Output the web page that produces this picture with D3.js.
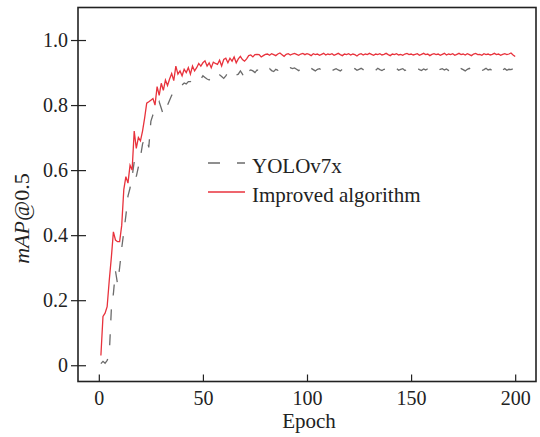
<!DOCTYPE html>
<html>
<head>
<meta charset="utf-8">
<script src="https://cdn.jsdelivr.net/npm/d3@7"></script>
<style>
  html, body { margin: 0; padding: 0; background: #fff; }
  svg { display: block; }
  text { font-family: "Liberation Serif", "Times New Roman", serif; fill: #222; }
</style>
</head>
<body>
<svg id="chart" width="540" height="437"></svg>
<script>
const seriesNames = ["YOLOv7x", "Improved algorithm"];
const xTicks = [0, 50, 100, 150, 200];
const yTicks = [0, 0.2, 0.4, 0.6, 0.8, 1.0];
const yTickLabels = ["0", "0.2", "0.4", "0.6", "0.8", "1.0"];

// mAP@0.5 per epoch (epoch = index + 1)
const improvedValues = [
0.03,0.15,0.16,0.18,0.26,0.33,0.41,0.385,0.38,0.38,
0.43,0.54,0.58,0.56,0.615,0.60,0.72,0.667,0.70,0.69,
0.72,0.76,0.806,0.81,0.815,0.82,0.80,0.857,0.83,0.867,
0.845,0.877,0.86,0.88,0.897,0.875,0.92,0.895,0.905,0.89,
0.91,0.90,0.915,0.895,0.92,0.905,0.915,0.928,0.92,0.93,
0.936,0.92,0.93,0.915,0.932,0.928,0.925,0.938,0.92,0.94,
0.944,0.93,0.944,0.935,0.948,0.93,0.942,0.95,0.94,0.935,
0.942,0.952,0.954,0.948,0.955,0.956,0.955,0.948,0.952,0.956,
0.957,0.953,0.958,0.955,0.952,0.957,0.960,0.955,0.950,0.956,
0.958,0.954,0.957,0.959,0.956,0.953,0.957,0.959,0.955,0.958,
0.956,0.952,0.958,0.955,0.957,0.953,0.956,0.959,0.954,0.957,
0.955,0.958,0.953,0.956,0.959,0.955,0.952,0.957,0.955,0.958,
0.954,0.957,0.955,0.951,0.956,0.958,0.954,0.957,0.955,0.959,
0.956,0.953,0.957,0.955,0.958,0.954,0.956,0.959,0.955,0.952,
0.957,0.955,0.958,0.954,0.956,0.953,0.957,0.959,0.955,0.957,
0.954,0.956,0.958,0.953,0.956,0.959,0.955,0.957,0.952,0.956,
0.958,0.955,0.957,0.953,0.956,0.959,0.954,0.957,0.955,0.958,
0.953,0.956,0.959,0.955,0.957,0.954,0.958,0.955,0.952,0.957,
0.959,0.955,0.956,0.953,0.958,0.955,0.957,0.954,0.956,0.959,
0.955,0.957,0.953,0.956,0.958,0.955,0.957,0.960,0.954,0.949
];

const yoloValues = [
0.005,0.012,0.006,0.015,0.03,0.17,0.22,0.29,0.25,0.30,
0.36,0.41,0.46,0.52,0.545,0.58,0.625,0.58,0.61,0.64,
0.68,0.70,0.70,0.67,0.75,0.77,0.78,0.79,0.81,0.79,
0.77,0.785,0.80,0.815,0.83,0.838,0.846,0.85,0.857,0.862,
0.868,0.865,0.872,0.872,0.877,0.88,0.877,0.885,0.88,0.89,
0.885,0.88,0.877,0.888,0.895,0.89,0.897,0.893,0.888,0.882,
0.89,0.9,0.908,0.9,0.897,0.892,0.895,0.905,0.895,0.88,
0.897,0.905,0.908,0.905,0.9,0.908,0.905,
0.905,0.91,0.903,0.908,0.912,0.906,0.903,0.91,0.907,0.912,
0.908,0.904,0.91,0.913,0.915,0.912,0.914,0.91,0.906,0.911,
0.908,0.912,0.906,0.91,0.913,0.909,0.905,0.91,0.912,0.907,
0.911,0.908,0.913,0.91,0.906,0.909,0.912,0.908,0.905,0.91,
0.913,0.909,0.906,0.911,0.908,0.912,0.907,0.91,0.913,0.909,
0.905,0.91,0.912,0.908,0.911,0.907,0.913,0.909,0.906,0.91,
0.912,0.908,0.905,0.911,0.909,0.913,0.907,0.91,0.912,0.906,
0.909,0.912,0.908,0.905,0.91,0.913,0.909,0.906,0.911,0.908,
0.912,0.907,0.91,0.913,0.909,0.905,0.91,0.912,0.908,0.911,
0.906,0.909,0.913,0.908,0.91,0.906,0.912,0.909,0.905,0.91,
0.913,0.908,0.911,0.907,0.91,0.912,0.906,0.909,0.913,0.908,
0.91,0.906,0.912,0.909,0.905,0.911,0.908,0.912,0.907,0.91,
0.909,0.912,0.908
];

const colors = { yolo: "#6b6b6b", improved: "#e8323c" };

const svg = d3.select("#chart");
const plot = { left: 78, right: 536, top: 7.5, bottom: 381.5 };

const x = d3.scaleLinear().domain([-10, 210]).range([plot.left, plot.right]);
const y = d3.scaleLinear().domain([-0.05, 1.1]).range([plot.bottom, plot.top]);

const line = d3.line()
  .x((d, i) => x(i + 1))
  .y(d => y(d));

// data lines
svg.append("path")
  .datum(yoloValues)
  .attr("d", line)
  .attr("fill", "none")
  .attr("stroke", colors.yolo)
  .attr("stroke-width", 1.3)
  .attr("stroke-dasharray", "11,14");

svg.append("path")
  .datum(improvedValues)
  .attr("d", line)
  .attr("fill", "none")
  .attr("stroke", colors.improved)
  .attr("stroke-width", 1.3);

// x axis (ticks inside)
const xAxis = svg.append("g")
  .attr("transform", `translate(0,${plot.bottom})`)
  .call(d3.axisBottom(x).tickValues(xTicks).tickSize(-7).tickPadding(9).tickFormat(d3.format("d")));
xAxis.select(".domain").remove();
xAxis.selectAll(".tick line").attr("stroke", "#222").attr("stroke-width", 1.2);
xAxis.selectAll(".tick text").style("font-size", "20px").attr("fill", "#222");

// y axis (ticks crossing)
const yAxis = svg.append("g")
  .attr("transform", `translate(${plot.left},0)`)
  .call(d3.axisLeft(y).tickValues(yTicks).tickSize(7).tickPadding(3)
    .tickFormat((d, i) => yTickLabels[i]));
yAxis.select(".domain").remove();
yAxis.selectAll(".tick line").attr("stroke", "#222").attr("stroke-width", 1.2);
yAxis.selectAll(".tick").append("line")
  .attr("x1", 0).attr("x2", 8).attr("stroke", "#222").attr("stroke-width", 1.2);
yAxis.selectAll(".tick text").style("font-size", "20px").attr("fill", "#222");

// frame
svg.append("rect")
  .attr("x", plot.left).attr("y", plot.top)
  .attr("width", plot.right - plot.left).attr("height", plot.bottom - plot.top)
  .attr("fill", "none").attr("stroke", "#222").attr("stroke-width", 1.6);

// axis titles
svg.append("text")
  .attr("x", (plot.left + plot.right) / 2 + 2)
  .attr("y", 428)
  .attr("text-anchor", "middle")
  .style("font-size", "21px")
  .text("Epoch");

const yt = svg.append("text")
  .attr("transform", `translate(29,${(plot.top + plot.bottom) / 2 + 24}) rotate(-90)`)
  .attr("text-anchor", "middle")
  .style("font-size", "22px");
yt.append("tspan").style("font-style", "italic").text("mAP");
yt.append("tspan").text("@0.5");

// legend
const legend = svg.append("g");
const legendItems = [
  { name: seriesNames[0], color: colors.yolo, dash: "12,17", y: 163 },
  { name: seriesNames[1], color: colors.improved, dash: null, y: 192 }
];
legendItems.forEach(item => {
  legend.append("line")
    .attr("x1", 208).attr("x2", 245)
    .attr("y1", item.y).attr("y2", item.y)
    .attr("stroke", item.color).attr("stroke-width", 1.3)
    .attr("stroke-dasharray", item.dash);
  legend.append("text")
    .attr("x", 252).attr("y", item.y + 10)
    .style("font-size", "21px")
    .text(item.name);
});
</script>
</body>
</html>
